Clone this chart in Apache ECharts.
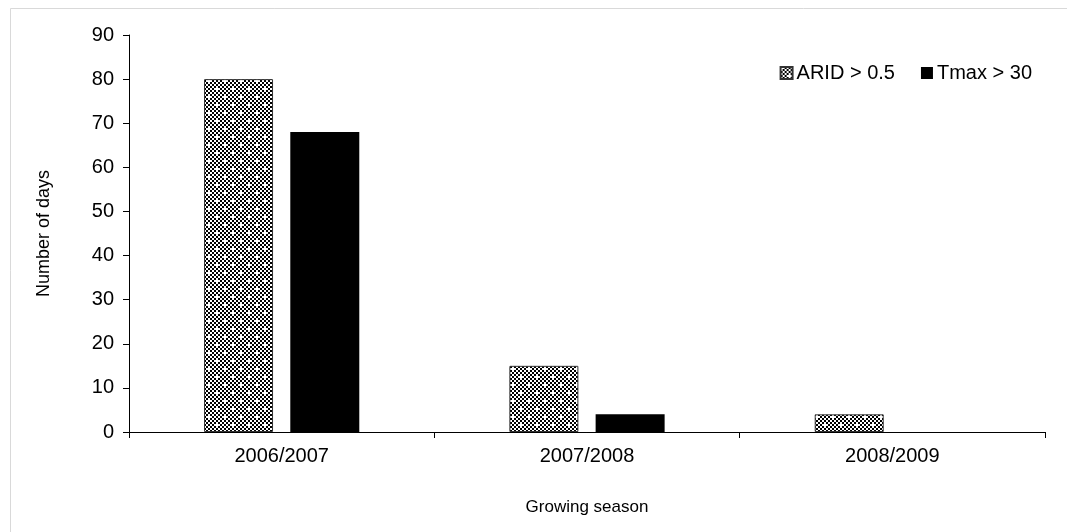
<!DOCTYPE html>
<html><head><meta charset="utf-8">
<script src="https://cdn.jsdelivr.net/npm/echarts@6/dist/echarts.min.js"></script>
<style>html,body{margin:0;padding:0;background:#fff}#c{width:1067px;height:532px}</style>
</head><body><div id="c"></div>
<script>
const categories = ['2006/2007', '2007/2008', '2008/2009'];
const aridValues = [80, 15, 4];
const tmaxValues = [68, 4, 0];
const seriesNames = ['ARID > 0.5', 'Tmax > 30'];

function makePattern() {
  const s = 16;
  const cv = document.createElement('canvas');
  cv.width = s; cv.height = s;
  const ctx = cv.getContext('2d');
  ctx.fillStyle = '#fff'; ctx.fillRect(0, 0, s, s);
  ctx.fillStyle = '#000';
  for (let y = 0; y < s; y += 2) {
    for (let x = 0; x < s; x += 2) {
      const cx = x / 2, cy = y / 2;
      if ((cx + cy) % 2 === 0) {
        if (cx === 4 && cy === 4) continue;
        if (cx === 0 && cy === 0) continue;
        ctx.fillRect(x, y, 2, 2);
      }
    }
  }
  return cv;
}
const pat = makePattern();
const font = 'Liberation Sans, Arial, sans-serif';

const chart = echarts.init(document.getElementById('c'));
chart.setOption({
  animation: false,
  backgroundColor: '#fff',
  graphic: [{
    type: 'rect', shape: { x: 10.5, y: 8.5, width: 1200, height: 1200 },
    style: { fill: 'none', stroke: '#d9d9d9', lineWidth: 1 }, silent: true, z: -1
  }],
  grid: { left: 129, right: 22, top: 35, bottom: 100 },
  legend: {
    right: 30, top: 58, itemWidth: 12, itemHeight: 12, itemGap: 26,
    icon: 'rect',
    textStyle: { fontFamily: font, fontSize: 20, color: '#000', padding: [0, 0, 0, -1] },
    data: seriesNames
  },
  xAxis: {
    type: 'category', data: categories,
    name: 'Growing season', nameLocation: 'middle', nameGap: 67,
    nameTextStyle: { fontFamily: font, fontSize: 17, color: '#000' },
    axisLine: { lineStyle: { color: '#000', width: 1 } },
    axisTick: { show: true, alignWithLabel: false, length: 6, lineStyle: { color: '#000' } },
    axisLabel: { fontFamily: font, fontSize: 20, color: '#000', margin: 14 }
  },
  yAxis: {
    type: 'value', min: 0, max: 90, interval: 10,
    name: 'Number of days', nameLocation: 'middle', nameGap: 76, nameRotate: 90,
    nameTextStyle: { fontFamily: font, fontSize: 18, color: '#000' },
    axisLine: { show: true, lineStyle: { color: '#000', width: 1 } },
    axisTick: { show: true, inside: false, length: 6, lineStyle: { color: '#000' } },
    axisLabel: { fontFamily: font, fontSize: 20, color: '#000', margin: 15 },
    splitLine: { show: false }
  },
  series: [
    {
      name: seriesNames[0], type: 'bar', data: aridValues,
      barWidth: 69, barGap: '25%',
      itemStyle: { color: { image: pat, repeat: 'repeat' }, borderColor: '#333', borderWidth: 1 }
    },
    {
      name: seriesNames[1], type: 'bar', data: tmaxValues,
      barWidth: 69,
      itemStyle: { color: '#000', borderColor: '#000', borderWidth: 0 }
    }
  ]
});
</script></body></html>
